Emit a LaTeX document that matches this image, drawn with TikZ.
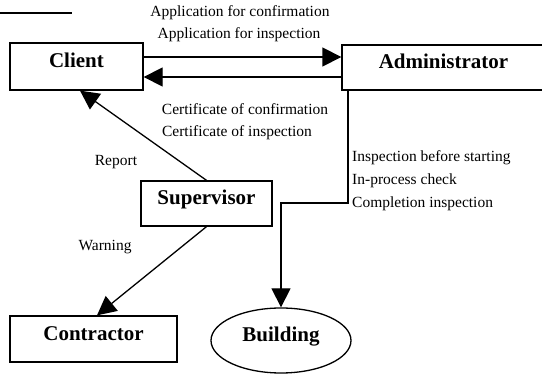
\documentclass[tikz,border=0pt]{standalone}
\usepackage{fontspec}
\setmainfont{Liberation Serif}
\usepackage{tikz}
\usetikzlibrary{shapes, arrows.meta, positioning, calc}

\begin{document}
\begin{tikzpicture}[x=1pt, y=-1pt,
    box/.style={draw, line width=1.3pt, rectangle, inner sep=0pt, text height=14pt, text depth=11pt, font=\fontsize{21}{24}\selectfont\bfseries},
    lbl/.style={font=\fontsize{15.5}{18}\selectfont, inner sep=0pt},
    arr/.style={line width=1.3pt, -{Triangle[length=19pt, width=19pt]}}]
        \useasboundingbox (0,0) rectangle (542,374);
        \draw[line width=1.5pt] (0,13) -- (72,13);

        % parties
        \node[box, minimum width=133pt, minimum height=47pt] (client) at (76.5,66.5) {Client};
        \node[box, minimum width=203pt, minimum height=45pt] (admin) at (443.5,67.5) {Administrator};
        \node[box, minimum width=131pt, minimum height=45pt] (supervisor) at (206.5,203.5) {Supervisor};
        \node[box, minimum width=167pt, minimum height=46pt] (contractor) at (93.5,339) {Contractor};
        \node[box, ellipse, minimum width=140pt, minimum height=65pt] (building) at (281,340.5) {Building};

        % applications and certificates
        \draw[arr] ([yshift=9.5pt]client.east) -- ([yshift=9.5pt]client.east -| admin.west);
        \draw[arr] ([yshift=-10.5pt]client.east -| admin.west) -- ([yshift=-10.5pt]client.east);
        \node[lbl] (app1) at (240,13) {Application for confirmation};
        \node[lbl] (app2) at (239,35) {Application for inspection};
        \node[lbl] (cert1) at (245,109) {Certificate of confirmation};
        \node[lbl] (cert2) at (237,133) {Certificate of inspection};

        % inspections
        \coordinate (turn) at (348,203);
        \draw[arr] (admin.south -| turn) -- (turn) -| (building.north);
        \node[lbl, anchor=west] (insp1) at (352,158) {Inspection before starting};
        \node[lbl, anchor=west] (insp2) at (352,181) {In-process check};
        \node[lbl, anchor=west] (insp3) at (352,204) {Completion inspection};

        % supervisor
        \draw[arr] (supervisor.north) -- ([xshift=3.5pt]client.south);
        \draw[arr] (supervisor.south) -- ([xshift=3.5pt]contractor.north);
        \node[lbl] (report) at (116,162) {Report};
        \node[lbl] (warning) at (105,247) {Warning};

    \end{tikzpicture}
\end{document}
